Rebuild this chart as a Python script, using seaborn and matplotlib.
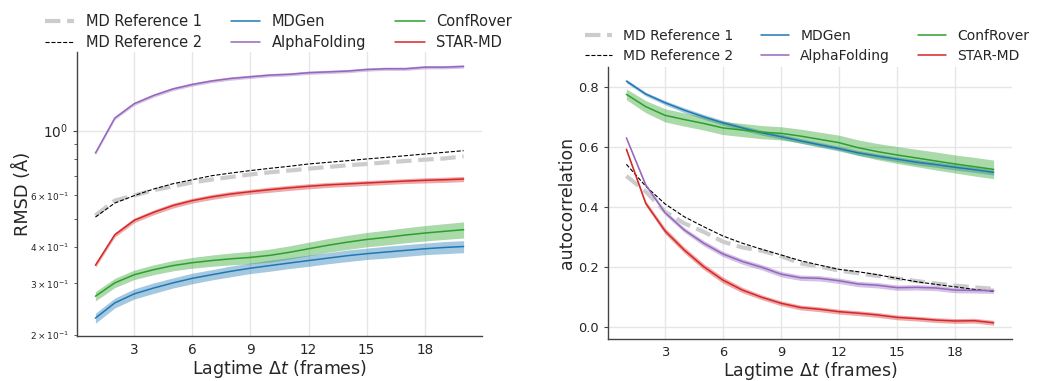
import numpy as np
import pandas as pd
import matplotlib
matplotlib.use("Agg")
import matplotlib.pyplot as plt
import seaborn as sns

lag = list(range(1, 21))

# RMSD (Angstrom) vs lag
rmsd_md1 = [0.512, 0.576, 0.600, 0.625, 0.645, 0.665, 0.680, 0.694, 0.708, 0.720,
            0.730, 0.741, 0.751, 0.761, 0.769, 0.779, 0.787, 0.796, 0.803, 0.817]
rmsd_md2 = [0.506, 0.565, 0.599, 0.631, 0.658, 0.679, 0.701, 0.716, 0.730, 0.743,
            0.755, 0.769, 0.779, 0.789, 0.800, 0.810, 0.821, 0.832, 0.843, 0.854]
rmsd_mdgen = [0.228, 0.257, 0.276, 0.289, 0.301, 0.312, 0.321, 0.330, 0.338, 0.345,
              0.352, 0.359, 0.366, 0.373, 0.379, 0.384, 0.389, 0.394, 0.398, 0.401]
rmsd_alpha = [0.838, 1.105, 1.237, 1.320, 1.390, 1.440, 1.480, 1.510, 1.530, 1.550,
              1.560, 1.580, 1.590, 1.600, 1.620, 1.630, 1.630, 1.650, 1.650, 1.660]
rmsd_confrover = [0.271, 0.301, 0.321, 0.334, 0.345, 0.353, 0.359, 0.364, 0.368, 0.374,
                  0.383, 0.394, 0.405, 0.415, 0.424, 0.431, 0.439, 0.446, 0.452, 0.458]
rmsd_starmd = [0.346, 0.440, 0.493, 0.525, 0.554, 0.576, 0.593, 0.607, 0.618, 0.628,
               0.637, 0.645, 0.652, 0.657, 0.662, 0.667, 0.672, 0.676, 0.679, 0.683]

rmsd_sd_mdgen = [0.009, 0.010, 0.011, 0.012, 0.012, 0.013, 0.013, 0.014, 0.014, 0.015,
                 0.015, 0.016, 0.016, 0.017, 0.017, 0.018, 0.018, 0.018, 0.019, 0.019]
rmsd_sd_alpha = [0.011, 0.014, 0.016, 0.017, 0.018, 0.019, 0.019, 0.020, 0.020, 0.020,
                 0.020, 0.021, 0.021, 0.021, 0.021, 0.021, 0.021, 0.022, 0.022, 0.022]
rmsd_sd_confrover = [0.010, 0.011, 0.012, 0.013, 0.014, 0.015, 0.016, 0.017, 0.018, 0.019,
                     0.020, 0.021, 0.022, 0.023, 0.024, 0.025, 0.026, 0.027, 0.028, 0.029]
rmsd_sd_starmd = [0.006, 0.008, 0.009, 0.010, 0.011, 0.011, 0.012, 0.012, 0.012, 0.013,
                  0.013, 0.013, 0.013, 0.013, 0.013, 0.013, 0.013, 0.014, 0.014, 0.014]

# autocorrelation vs lag
acf_md1 = [0.503, 0.451, 0.384, 0.345, 0.317, 0.284, 0.265, 0.254, 0.236, 0.212,
           0.201, 0.188, 0.179, 0.170, 0.162, 0.153, 0.145, 0.138, 0.132, 0.127]
acf_md2 = [0.542, 0.469, 0.410, 0.367, 0.334, 0.303, 0.279, 0.259, 0.240, 0.221,
           0.206, 0.192, 0.184, 0.174, 0.162, 0.151, 0.142, 0.134, 0.125, 0.119]
acf_mdgen = [0.819, 0.776, 0.747, 0.722, 0.700, 0.680, 0.663, 0.647, 0.634, 0.620,
             0.607, 0.594, 0.580, 0.569, 0.559, 0.549, 0.541, 0.532, 0.524, 0.515]
acf_alpha = [0.630, 0.473, 0.381, 0.323, 0.279, 0.243, 0.218, 0.199, 0.176, 0.164,
             0.162, 0.154, 0.143, 0.139, 0.131, 0.132, 0.130, 0.123, 0.122, 0.121]
acf_confrover = [0.775, 0.734, 0.705, 0.691, 0.678, 0.663, 0.656, 0.649, 0.645, 0.636,
                 0.625, 0.614, 0.597, 0.584, 0.573, 0.563, 0.553, 0.543, 0.534, 0.525]
acf_starmd = [0.592, 0.412, 0.320, 0.256, 0.201, 0.156, 0.123, 0.099, 0.079, 0.065,
              0.059, 0.051, 0.046, 0.040, 0.032, 0.028, 0.023, 0.020, 0.021, 0.014]

acf_sd_mdgen = [0.006, 0.006, 0.007, 0.008, 0.008, 0.008, 0.008, 0.008, 0.008, 0.008,
                0.008, 0.008, 0.008, 0.008, 0.008, 0.009, 0.009, 0.009, 0.009, 0.009]
acf_sd_alpha = [0.004, 0.006, 0.008, 0.008, 0.009, 0.009, 0.009, 0.009, 0.009, 0.009,
                0.009, 0.009, 0.009, 0.009, 0.009, 0.009, 0.009, 0.009, 0.009, 0.009]
acf_sd_confrover = [0.018, 0.020, 0.022, 0.022, 0.022, 0.022, 0.022, 0.022, 0.022, 0.023,
                    0.024, 0.025, 0.026, 0.027, 0.028, 0.029, 0.030, 0.030, 0.031, 0.031]
acf_sd_starmd = [0.005, 0.008, 0.010, 0.010, 0.010, 0.010, 0.009, 0.008, 0.008, 0.008,
                 0.008, 0.008, 0.008, 0.008, 0.008, 0.008, 0.008, 0.008, 0.008, 0.008]

labels = ["MD Reference 1", "MD Reference 2", "MDGen", "AlphaFolding", "ConfRover", "STAR-MD"]
colors = {"MDGen": "#1f77b4", "AlphaFolding": "#9467bd",
          "ConfRover": "#2ca02c", "STAR-MD": "#d62728"}

sns.set_style("ticks")
plt.rcParams["font.family"] = ["DejaVu Sans"]

fig = plt.figure(figsize=(10.37, 3.81), dpi=100)
axL = fig.add_axes([77 / 1037, 1 - 336 / 381, 405 / 1037, 284 / 381])
axR = fig.add_axes([608 / 1037, 1 - 339 / 381, 404 / 1037, 272 / 381])


def draw(ax, md1, md2, series, sds):
    sns.lineplot(x=lag, y=md1, ax=ax, color="#cccccc", lw=3.0, linestyle="--",
                 label=labels[0], zorder=3)
    sns.lineplot(x=lag, y=md2, ax=ax, color="black", lw=0.8, linestyle="--",
                 label=labels[1], zorder=4)
    for name in ["MDGen", "AlphaFolding", "ConfRover", "STAR-MD"]:
        m = np.array(series[name])
        s = np.array(sds[name])
        ax.fill_between(lag, m - s, m + s, color=colors[name], alpha=0.4, lw=0, zorder=2)
        sns.lineplot(x=lag, y=series[name], ax=ax, color=colors[name], lw=1.1,
                     label=name, zorder=5)


draw(axL, rmsd_md1, rmsd_md2,
     {"MDGen": rmsd_mdgen, "AlphaFolding": rmsd_alpha,
      "ConfRover": rmsd_confrover, "STAR-MD": rmsd_starmd},
     {"MDGen": rmsd_sd_mdgen, "AlphaFolding": rmsd_sd_alpha,
      "ConfRover": rmsd_sd_confrover, "STAR-MD": rmsd_sd_starmd})
draw(axR, acf_md1, acf_md2,
     {"MDGen": acf_mdgen, "AlphaFolding": acf_alpha,
      "ConfRover": acf_confrover, "STAR-MD": acf_starmd},
     {"MDGen": acf_sd_mdgen, "AlphaFolding": acf_sd_alpha,
      "ConfRover": acf_sd_confrover, "STAR-MD": acf_sd_starmd})

axL.set_yscale("log")
axL.set_ylim(0.198, 1.86)
axR.set_ylim(-0.04, 0.866)
for ax, fs in ((axL, 9.8), (axR, 9.4)):
    ax.set_xlim(0.05, 20.95)
    ax.set_xticks([3, 6, 9, 12, 15, 18])
    ax.grid(True, which="major", color="#e6e6e6", lw=1.0, zorder=0)
    ax.set_axisbelow(True)
    sns.despine(ax=ax)
    for sp in ("left", "bottom"):
        ax.spines[sp].set_color("#444444")
        ax.spines[sp].set_linewidth(1.0)
    ax.tick_params(axis="x", length=0, labelsize=fs, pad=5)
    ax.tick_params(axis="y", which="major", length=3, labelsize=fs, color="#444444")
    ax.set_xlabel(r"Lagtime $\Delta t$ (frames)", fontsize=12.5, labelpad=1)

axL.tick_params(axis="y", which="minor", length=2, labelsize=6.5, color="#444444")
axL.set_ylabel("RMSD (Å)", fontsize=12.8, labelpad=-1)
axR.set_ylabel("autocorrelation", fontsize=12.4, labelpad=2)

for ax, (lx, ly), fs, ls in ((axL, (39, 8), 10.5, 0.45), (axR, (579, 23), 10.0, 0.44)):
    ax.get_legend().remove()
    h, l = ax.get_legend_handles_labels()
    ax.legend(h, l, loc="upper left", bbox_to_anchor=(lx / 1037, 1 - ly / 381),
              bbox_transform=fig.transFigure, ncol=3, frameon=False, fontsize=fs,
              borderaxespad=0, labelspacing=ls)

fig.savefig("out.png", dpi=100)
